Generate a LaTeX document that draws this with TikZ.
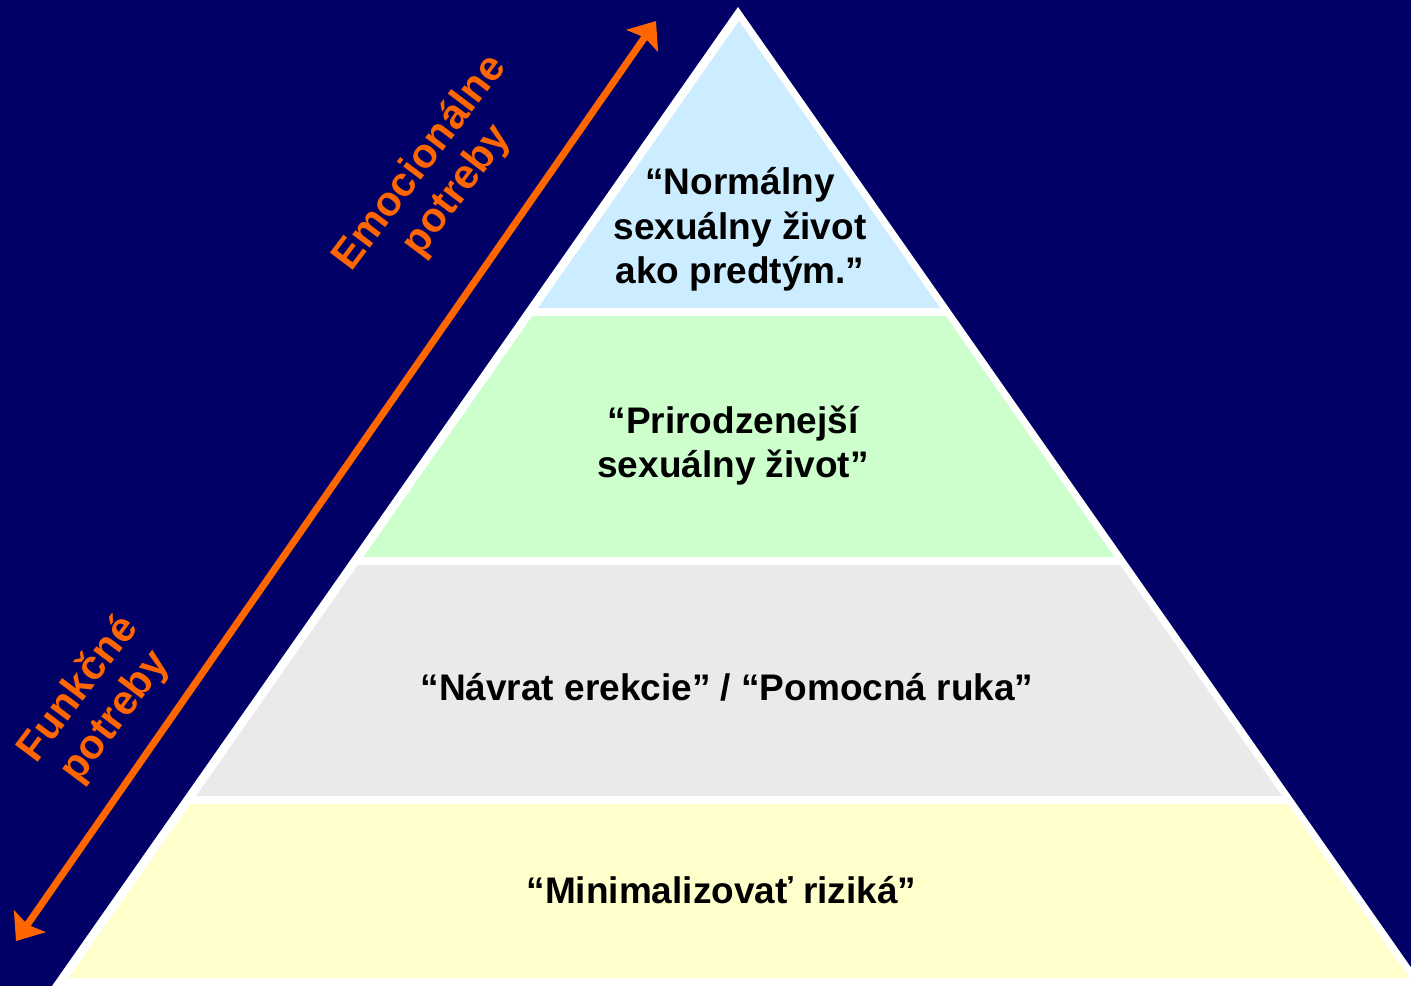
\documentclass[tikz,border=0pt]{standalone}
\usepackage{fontspec}
\setmainfont{Liberation Sans}
\usetikzlibrary{arrows.meta}
\definecolor{navy}{HTML}{000066}
\definecolor{bandblue}{HTML}{CCECFF}
\definecolor{bandgreen}{HTML}{CCFFCC}
\definecolor{bandgray}{HTML}{EAEAEA}
\definecolor{bandyellow}{HTML}{FFFFCC}
\definecolor{arroworange}{HTML}{FF6600}
\tikzset{
  bandtext/.style={font=\fontsize{37}{44.5}\selectfont\bfseries, text=black, align=center, inner sep=0pt},
  sidelabel/.style={font=\fontsize{41.5}{46}\selectfont\bfseries, text=arroworange, align=center, inner sep=0pt, rotate=53},
  needarrow/.style={draw=arroworange, line width=7pt, {Stealth[length=24pt,width=38pt,inset=4pt]}-{Stealth[length=24pt,width=38pt,inset=4pt]}}
}
\begin{document}
\begin{tikzpicture}[x=1pt,y=-1pt]
\useasboundingbox (0,0) rectangle (1411,986);
\clip (0,0) rectangle (1411,986);
\fill[navy] (0,0) rectangle (1411,986);
% outer white triangle
\fill[white] (738,7) -- (738-0.7007*1010,1017) -- (738+0.7007*1010,1017) -- cycle;
% bands
\fill[bandblue] (739,21) -- (940.1,308) -- (537.9,308) -- cycle;
\fill[bandgreen] (532.3,316) -- (945.7,316) -- (1114.6,557) -- (363.4,557) -- cycle;
\fill[bandgray] (357.8,565) -- (1120.2,565) -- (1282.0,796) -- (196.0,796) -- cycle;
\fill[bandyellow] (190.4,804) -- (1287.6,804) -- (1409.6,978) -- (68.4,978) -- cycle;
% texts
\node[bandtext] (top) at (740,229.5) {“Normálny\\sexuálny život\\ako predtým.”};
\node[bandtext] (second) at (733,445.5) {“Prirodzenejší\\sexuálny život”};
\node[bandtext, anchor=base] (third) at (727,700) {“Návrat erekcie” / “Pomocná ruka”};
\node[bandtext, anchor=base] (bottom) at (721.5,903) {“Minimalizovať riziká”};
% arrow
\coordinate (arrowlow) at (16,941);
\coordinate (arrowhigh) at (656,21);
\draw[needarrow] (arrowlow) -- (arrowhigh);
\node[sidelabel] (emo) at (439,177) {Emocionálne\\potreby};
\node[sidelabel] (fun) at (97,703) {Funkčné\\potreby};
\end{tikzpicture}
\end{document}
